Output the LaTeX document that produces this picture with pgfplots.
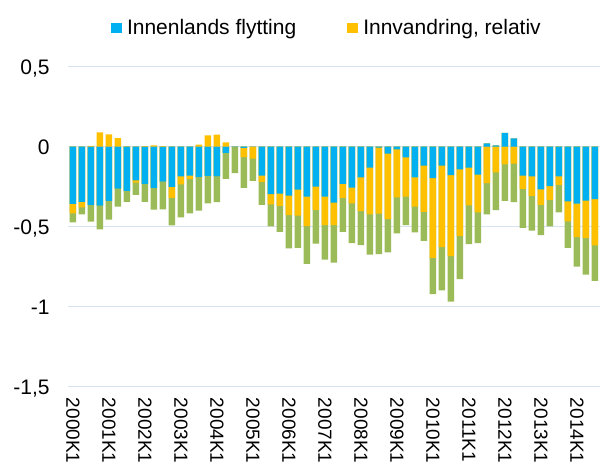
\documentclass[border=0pt]{standalone}
\usepackage{fontspec}
\setmainfont{Liberation Sans}
\usepackage{pgfplots}
\usepackage{pgfplotstable}
\pgfplotsset{compat=1.18}
\definecolor{cblue}{RGB}{0,176,240}
\definecolor{corange}{RGB}{255,192,0}
\definecolor{cgreen}{RGB}{155,187,89}
\definecolor{cgrid}{RGB}{217,226,240}

% gbot: bottom of whole bar (green end), obot: bottom of orange (negative part),
% bneg: blue negative end, otop: top of positive stack, bpos: blue positive end
\pgfplotstableread{
x gbot obot bneg otop bpos
0 -0.473 -0.416 -0.358 0 0
1 -0.423 -0.379 -0.345 0 0
2 -0.469 -0.364 -0.364 0.005 0
3 -0.517 -0.368 -0.368 0.090 0
4 -0.456 -0.339 -0.339 0.077 0
5 -0.374 -0.262 -0.262 0.054 0
6 -0.345 -0.276 -0.276 0.002 0
7 -0.301 -0.224 -0.211 0 0
8 -0.345 -0.232 -0.232 0.004 0
9 -0.393 -0.257 -0.257 0.008 0
10 -0.391 -0.218 -0.218 0.004 0
11 -0.492 -0.320 -0.251 0 0
12 -0.441 -0.236 -0.186 0 0
13 -0.416 -0.203 -0.180 0 0
14 -0.400 -0.190 -0.190 0.013 0
15 -0.354 -0.182 -0.182 0.071 0
16 -0.347 -0.186 -0.186 0.075 0
17 -0.201 -0.038 -0.038 0.027 0
18 -0.165 -0.002 -0.002 0 0
19 -0.257 -0.065 -0.008 0 0
20 -0.213 -0.075 0 0 0
21 -0.364 -0.220 -0.180 0 0
22 -0.498 -0.360 -0.297 0 0
23 -0.533 -0.370 -0.293 0 0
24 -0.636 -0.427 -0.305 0 0
25 -0.632 -0.431 -0.268 0 0
26 -0.732 -0.496 -0.312 0 0
27 -0.605 -0.395 -0.249 0 0
28 -0.705 -0.490 -0.312 0 0
29 -0.724 -0.490 -0.349 0 0
30 -0.533 -0.320 -0.232 0 0
31 -0.603 -0.354 -0.255 0 0
32 -0.615 -0.402 -0.192 0 0
33 -0.674 -0.423 -0.130 0 0
34 -0.672 -0.418 -0.006 0 0
35 -0.661 -0.452 -0.044 0 0
36 -0.542 -0.316 -0.017 0 0
37 -0.490 -0.312 -0.067 0 0
38 -0.536 -0.374 -0.192 0 0
39 -0.588 -0.408 -0.119 0 0
40 -0.921 -0.695 -0.197 0 0
41 -0.898 -0.628 -0.119 0 0
42 -0.969 -0.684 -0.178 0 0
43 -0.828 -0.559 -0.142 0 0
44 -0.609 -0.366 -0.130 0 0
45 -0.603 -0.410 -0.174 0 0
46 -0.423 -0.228 0 0.021 0.021
47 -0.397 -0.161 0 0.008 0.008
48 -0.339 -0.111 0 0.086 0.086
49 -0.347 -0.105 0 0.052 0.052
50 -0.508 -0.264 -0.180 0 0
51 -0.525 -0.308 -0.186 0 0
52 -0.552 -0.364 -0.266 0 0
53 -0.498 -0.333 -0.247 0 0
54 -0.410 -0.238 -0.186 0 0
55 -0.632 -0.467 -0.341 0 0
56 -0.749 -0.565 -0.356 0 0
57 -0.799 -0.571 -0.337 0 0
58 -0.839 -0.617 -0.328 0 0
}\data

\begin{document}
\begin{tikzpicture}
\begin{axis}[
  at={(67.85pt,-386.7pt)}, anchor=south west,
  x=9pt, y=160pt,
  xmin=-0.55, xmax=58.6, ymin=-1.5, ymax=0.5,
  axis line style={draw=none},
  major tick length=0pt,
  ytick={-1.5,-1,-0.5,0,0.5},
  yticklabels={{-1,5},{-1},{-0,5},{0},{0,5}},
  ymajorgrids, grid style={cgrid, line width=1.5pt},
  xtick={0,4,...,56},
  xticklabels={2000K1,2001K1,2002K1,2003K1,2004K1,2005K1,2006K1,2007K1,2008K1,2009K1,2010K1,2011K1,2012K1,2013K1,2014K1},
  ticklabel style={font=\fontsize{21}{25}\selectfont},
  yticklabel style={anchor=base east, inner sep=0pt, xshift=-18pt, yshift=-7.5pt},
  xticklabel style={rotate=-90, anchor=west, inner sep=0pt, font=\fontsize{19}{23}\selectfont},
  xticklabel shift=11pt,
  legend columns=2,
  legend image code/.code={\fill[#1] (0pt,-5.25pt) rectangle (10.5pt,5.25pt); \path (16pt,0pt);},
  legend style={at={(0.0807,1.121)}, anchor=west, draw=none, fill=none, inner sep=0pt,
    font=\fontsize{21}{25}\selectfont,
    nodes={inner sep=0pt},
    /tikz/every even column/.append style={column sep=51pt}},
]
\addplot[ybar, bar width=6.4pt, bar shift=0pt, fill=cgreen, draw=none, forget plot] table[x=x, y=gbot] {\data};
\addplot[ybar, bar width=6.4pt, bar shift=0pt, fill=corange, draw=none, forget plot] table[x=x, y=obot] {\data};
\addplot[ybar, bar width=6.4pt, bar shift=0pt, fill=cblue, draw=none, forget plot] table[x=x, y=bneg] {\data};
\addplot[ybar, bar width=6.4pt, bar shift=0pt, fill=corange, draw=none, forget plot] table[x=x, y=otop] {\data};
\addplot[ybar, bar width=6.4pt, bar shift=0pt, fill=cblue, draw=none, forget plot] table[x=x, y=bpos] {\data};
\addlegendimage{fill=cblue, draw=none}
\addlegendentry{Innenlands flytting}
\addlegendimage{fill=corange, draw=none}
\addlegendentry{Innvandring, relativ}
\end{axis}
\pgfresetboundingbox
\path[use as bounding box] (0pt,0pt) rectangle (600pt,-469pt);
\end{tikzpicture}
\end{document}
